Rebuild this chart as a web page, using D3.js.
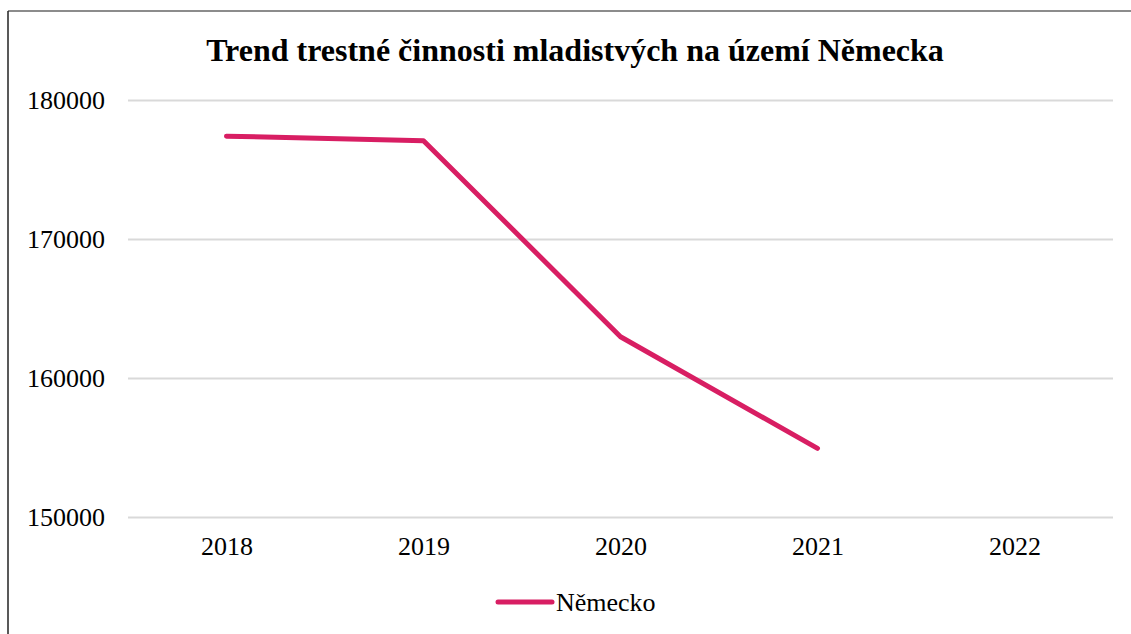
<!DOCTYPE html>
<html>
<head>
<meta charset="utf-8">
<script src="https://cdn.jsdelivr.net/npm/d3@7"></script>
<style>
  body { margin: 0; background: #fff; }
  svg { display: block; }
  svg text { font-family: "Liberation Serif", "Times New Roman", serif; fill: #000; }
</style>
</head>
<body>
<svg id="chart" width="1131" height="634"></svg>
<script>
// Data

var years = ["2018", "2019", "2020", "2021", "2022"];
var nemecko = [177400, 177070, 162970, 154940, null];
var yTicks = [150000, 160000, 170000, 180000];
var seriesName = "Německo";
var chartTitle = "Trend trestné činnosti mladistvých na území Německa";

// Chart

var svg = d3.select("#chart");
var color = "#d81e63";
var serif = "'Liberation Serif', 'Times New Roman', serif";

var x = d3.scalePoint()
	.domain(years)
	.range([128, 1113])
	.padding(0.5);

var y = d3.scaleLinear()
	.domain([150000, 180000])
	.range([517, 100]);

// frame
svg.append("line").attr("x1", 8).attr("x2", 1131).attr("y1", 11).attr("y2", 11)
	.attr("stroke", "#666").attr("stroke-width", 1.5);
svg.append("line").attr("x1", 8).attr("x2", 8).attr("y1", 11).attr("y2", 634)
	.attr("stroke", "#222").attr("stroke-width", 1.5);

// title
svg.append("text")
	.attr("x", 575)
	.attr("y", 61)
	.attr("text-anchor", "middle")
	.style("font-family", serif)
	.style("font-weight", "bold")
	.style("font-size", "32px")
	.text(chartTitle);

// gridlines + y labels
var yAxis = d3.axisLeft(y)
	.tickValues(yTicks)
	.tickSize(-(1113 - 128))
	.tickPadding(23)
	.tickFormat(d3.format("d"));

var gy = svg.append("g")
	.attr("transform", "translate(128,0)")
	.call(yAxis);
gy.attr("font-family", null).attr("font-size", null);
gy.select(".domain").remove();
gy.selectAll(".tick line").attr("stroke", "#d9d9d9").attr("stroke-width", 2);
gy.selectAll(".tick text")
	.style("font-family", serif)
	.style("font-size", "26px")
	.style("fill", "#000");

// x labels
var xAxis = d3.axisBottom(x).tickSize(0).tickPadding(20);
var gx = svg.append("g")
	.attr("transform", "translate(0,517)")
	.call(xAxis);
gx.attr("font-family", null).attr("font-size", null);
gx.select(".domain").remove();
gx.selectAll(".tick text")
	.style("font-family", serif)
	.style("font-size", "26px")
	.style("fill", "#000");

// line
var line = d3.line()
	.defined(function(d) { return d != null; })
	.x(function(d, i) { return x(years[i]); })
	.y(function(d) { return y(d); });

svg.append("path")
	.datum(nemecko)
	.attr("fill", "none")
	.attr("stroke", color)
	.attr("stroke-width", 5)
	.attr("stroke-linecap", "round")
	.attr("stroke-linejoin", "round")
	.attr("d", line);

// legend
var legend = svg.append("g").attr("transform", "translate(498,602)");
legend.append("line")
	.attr("x1", 0).attr("x2", 54)
	.attr("stroke", color)
	.attr("stroke-width", 5)
	.attr("stroke-linecap", "round");
legend.append("text")
	.attr("x", 58)
	.attr("y", 9)
	.style("font-family", serif)
	.style("font-size", "26px")
	.text(seriesName);
</script>
</body>
</html>
